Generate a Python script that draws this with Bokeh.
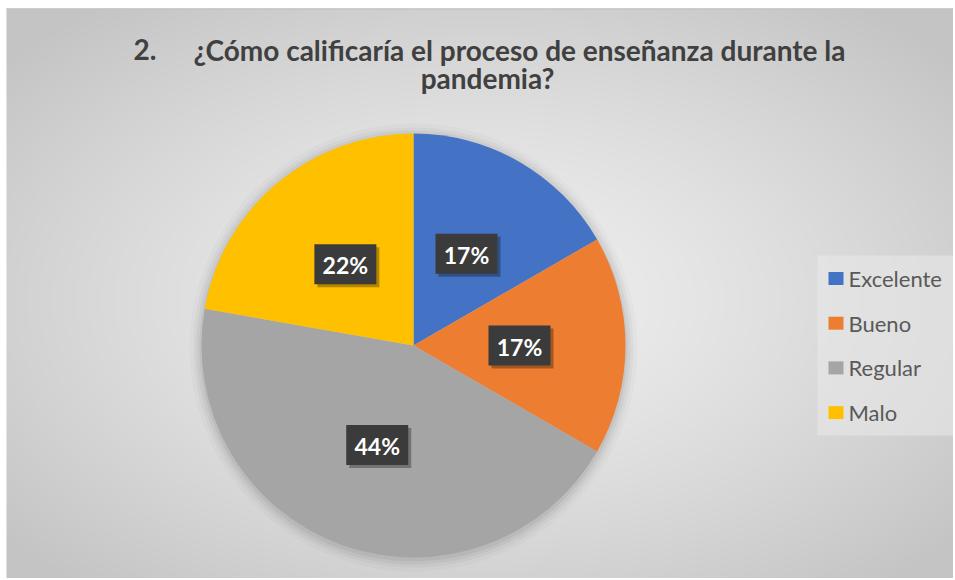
import numpy as np
from bokeh.plotting import figure
from bokeh.models import Range1d, ColumnDataSource
from bokeh.core.properties import value
from bokeh.embed import file_html
from bokeh.resources import INLINE

# ---- data ----
categories = ["Excelente", "Bueno", "Regular", "Malo"]
counts = [3, 3, 8, 4]
colors = ["#4472C4", "#ED7D31", "#A5A5A5", "#FFC000"]
title_num = "2."
title_line1 = "¿Cómo calificaría el proceso de enseñanza durante la"
title_line2 = "pandemia?"

W, H = 953, 578
FONT = "Lato"

def Y(yimg):
    return H - np.asarray(yimg, dtype=float)

p = figure(width=W, height=H, output_backend="svg", toolbar_location=None,
           x_range=Range1d(0, W), y_range=Range1d(0, H),
           x_axis_type=None, y_axis_type=None, min_border=0)
p.outline_line_color = None
p.grid.visible = False
p.background_fill_color = "white"
p.border_fill_color = "white"

# ---- radial gradient background (chart area from x=6, y=8) ----
x0, y0 = 6, 8
cw, ch = W - x0, H - y0
nx, ny = cw // 2, ch // 2
xs = x0 + (np.arange(nx) + 0.5) * cw / nx
ys = (np.arange(ny) + 0.5) * ch / ny
XX, YY = np.meshgrid(xs, ys)
cx_g, cy_g = 480.0, float(Y(300))
d = np.sqrt(((XX - cx_g) / (cw * 0.55)) ** 2 + ((YY - cy_g) / (ch * 0.55)) ** 2)
d = np.clip(d / 1.2, 0, 1)
g = (240 - 44 * d ** 1.3).astype(np.uint8)
img = np.empty((ny, nx), dtype=np.uint32)
view = img.view(dtype=np.uint8).reshape((ny, nx, 4))
view[:, :, 0] = g
view[:, :, 1] = g
view[:, :, 2] = g
view[:, :, 3] = 255
p.image_rgba(image=[img], x=x0, y=0, dw=cw, dh=ch)
# thin top edge line
p.segment(x0=x0, y0=float(Y(8.5)), x1=W, y1=float(Y(8.5)), line_color="#c4c4c4", line_width=1.5)

# ---- pie ----
cx, cy, R = 413, float(Y(345)), 212
total = sum(counts)
frac = np.array(counts, dtype=float) / total
cum = np.concatenate([[0], np.cumsum(frac)])
starts = np.pi / 2 - 2 * np.pi * cum[:-1]
ends = np.pi / 2 - 2 * np.pi * cum[1:]
mids = (starts + ends) / 2
pct = [f"{round(f * 100):.0f}%" for f in frac]

# soft shadow around pie
for k, a in [(12, 0.02), (8, 0.03), (5, 0.04), (2, 0.05)]:
    p.circle(x=cx, y=cy - 2, radius=R + k, fill_color="black", fill_alpha=a, line_color=None)

src = ColumnDataSource(dict(start=starts, end=ends, color=colors, cat=categories))
wr = p.wedge(x=cx, y=cy, radius=R, start_angle="start", end_angle="end",
             direction="clock", fill_color="color", line_color=None, source=src)

# ---- data labels ----
lr = 0.5 * R
lx = cx + lr * np.cos(mids)
ly = cy + lr * np.sin(mids)
bw, bh = 62, 40
p.rect(x=lx + 3, y=ly - 3, width=bw, height=bh, fill_color="black", fill_alpha=0.3, line_color=None)
p.rect(x=lx, y=ly, width=bw, height=bh, fill_color="#3b3b3b", line_color=None)
p.text(x=lx, y=ly - 1, text=pct, text_align="center", text_baseline="middle",
       text_font=value(FONT), text_font_style="bold", text_font_size="23px", text_color="white")

# ---- title ----
tkw = dict(text_font=value(FONT), text_font_style="bold", text_font_size="28px",
           text_color="#404040", text_baseline="alphabetic")
p.text(x=[133], y=[float(Y(49))], text=[title_num], text_align="left", **tkw)
p.text(x=[519], y=[float(Y(49))], text=[title_line1], text_align="center", **tkw)
p.text(x=[487], y=[float(Y(77))], text=[title_line2], text_align="center", **tkw)

# ---- legend (drawn manually for exact spacing) ----
lg_left, lg_top, lg_bottom, lg_right = 817, 255, 435, 953
p.quad(left=lg_left, right=lg_right, top=float(Y(lg_top)), bottom=float(Y(lg_bottom)),
       fill_color="#e8e8e8", fill_alpha=0.6, line_color=None)
n = len(categories)
item_y = Y(278 + 44.7 * np.arange(n))
p.rect(x=[835.5] * n, y=item_y, width=15, height=13, fill_color=colors, line_color=None)
p.text(x=[848] * n, y=item_y, text=categories, text_align="left", text_baseline="middle",
       text_font=value(FONT), text_font_size="22px", text_color="#595959")

open("out.html", "w").write(file_html(p, INLINE))
